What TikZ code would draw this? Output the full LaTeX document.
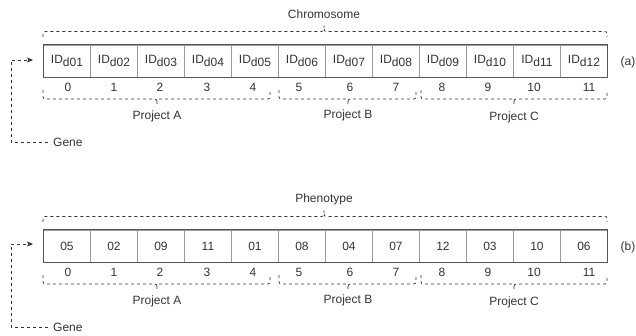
\documentclass[tikz,border=0pt]{standalone}
\usepackage{fontspec}
\setmainfont{Liberation Sans}
\usetikzlibrary{arrows.meta}
\definecolor{txt}{HTML}{333333}
\definecolor{edgec}{HTML}{555555}
\definecolor{divc}{HTML}{9A9A9A}
\tikzset{
  every node/.style={font=\fontsize{12}{14}\selectfont, text=txt},
  cell/.style={draw=divc, line width=0.9pt, minimum width=47pt, minimum height=32pt, inner sep=0pt, anchor=west},
  outerbox/.style={draw=edgec, line width=0.9pt},
  dashline/.style={draw=txt, dash pattern=on 3pt off 3pt, line width=0.7pt},
  genelabel/.style={anchor=west, inner sep=0pt},
  genearrow/.style={dashline, shorten <=5pt, -{Stealth[length=6pt,width=5pt,inset=1.5pt]}},
}
\newcommand\mybrace[6]{%
  \draw[dashline] (#1,#4) -- (#1,{((#4)+(#5))/2}) .. controls (#1,#5) .. ({#1+5},#5)
    -- ({#3-5},#5) .. controls (#3,#5) .. (#3,#6) .. controls (#3,#5) .. ({#3+5},#5)
    -- ({#2-5},#5) .. controls (#2,#5) .. (#2,{((#4)+(#5))/2}) -- (#2,#4);}
\begin{document}
\begin{tikzpicture}[x=1pt,y=1pt]
\useasboundingbox (0,0) rectangle (636,-335);
% ---------- (a) ----------
\foreach \t [count=\i from 0] in {d01,d02,d03,d04,d05,d06,d07,d08,d09,d10,d11,d12}
  \node[cell] (a\i) at ({43+47*\i},-61) {ID\raisebox{-3pt}{\t}};
\draw[outerbox] (a0.north west) rectangle (a11.south east);
\foreach \x [count=\i from 0] in {68,114,160,207,253,299,350,396,442,488,534,589}
  \node (ai\i) at (\x,-87) {\i};
\node (chrom) at (324,-14) {Chromosome};
\node (laba) at (628,-62) {(a)};
\mybrace{43}{607}{324}{-37}{-31.5}{-25.5}
\mybrace{43}{270}{157}{-90}{-99}{-104}
\mybrace{279}{416}{348}{-90}{-99}{-104}
\mybrace{421}{607}{514}{-90}{-99}{-104}
\node (pa1) at (157,-116) {Project A};
\node (pb1) at (348,-115) {Project B};
\node (pc1) at (514,-117) {Project C};
\node[genelabel] (genea) at (53,-142) {Gene};
\coordinate (genea end) at (33,-60);
\draw[genearrow] (genea.west) -- ++(-42,0) |- (genea end);
% ---------- (b) ----------
\foreach \t [count=\i from 0] in {05,02,09,11,01,08,04,07,12,03,10,06}
  \node[cell] (b\i) at ({43+47*\i},-246) {\t};
\draw[outerbox] (b0.north west) rectangle (b11.south east);
\foreach \x [count=\i from 0] in {68,114,160,207,253,299,350,396,442,488,534,589}
  \node (bi\i) at (\x,-272) {\i};
\node (pheno) at (324,-199) {Phenotype};
\node (labb) at (628,-247) {(b)};
\mybrace{43}{607}{324}{-222}{-216.5}{-210.5}
\mybrace{43}{270}{157}{-275}{-284}{-289}
\mybrace{279}{416}{348}{-275}{-284}{-289}
\mybrace{421}{607}{514}{-275}{-284}{-289}
\node (pa2) at (157,-301) {Project A};
\node (pb2) at (348,-300) {Project B};
\node (pc2) at (514,-302) {Project C};
\node[genelabel] (geneb) at (53,-327) {Gene};
\coordinate (geneb end) at (33,-244);
\draw[genearrow] (geneb.west) -- ++(-42,0) |- (geneb end);
\end{tikzpicture}
\end{document}
